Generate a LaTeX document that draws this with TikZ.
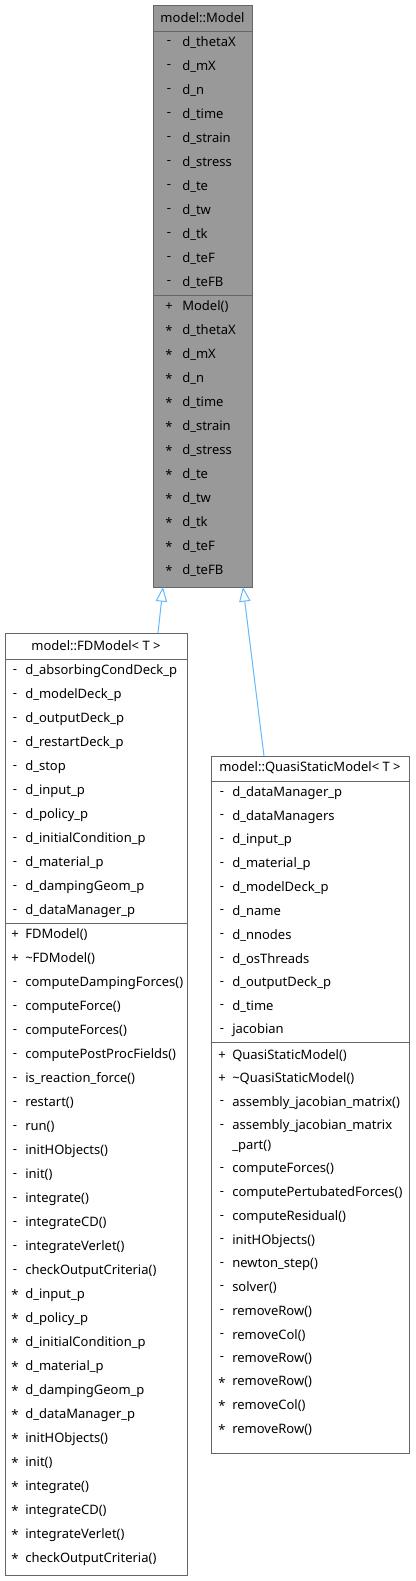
\documentclass[tikz,border=0pt]{standalone}
\usepackage{fontspec}
\setmainfont{Noto Sans}
\usepackage{xcolor}
\usetikzlibrary{arrows.meta}
\definecolor{edgeblue}{HTML}{63B8FF}
\definecolor{boxline}{HTML}{666666}
\definecolor{basefill}{HTML}{999999}
\tikzset{
  cls/.style={draw=boxline,line width=0.75pt,fill=white},
  basecls/.style={draw=boxline,line width=0.75pt,fill=basefill},
  sep/.style={draw=boxline,line width=0.75pt},
  title/.style={anchor=center,inner sep=0pt,font=\fontsize{9.75}{12}\selectfont},
  member/.style={anchor=west,inner sep=0pt,font=\fontsize{9.75}{12}\selectfont},
  vis/.style={anchor=center,inner sep=0pt,font=\fontsize{9.75}{12}\selectfont},
  inh/.style={draw=edgeblue,line width=0.75pt,-{Triangle[open,length=11pt,width=8.5pt]}},
}

\begin{document}
\begin{tikzpicture}[x=0.75pt,y=-0.75pt]
  \useasboundingbox (0,0) rectangle (415,1581);
  % base class model::Model
  \draw[basecls] (153,5) rectangle (252,587);
  \draw[sep] (153,31) -- (252,31);
  \draw[sep] (153,295) -- (252,295);
  \node[title] (mtitle) at (202.5,18) {model::Model};
  \foreach \t [count=\i] in {d\_thetaX,d\_mX,d\_n,d\_time,d\_strain,d\_stress,
      d\_te,d\_tw,d\_tk,d\_teF,d\_teFB} {
    \node[vis] (mav\i) at (169,{19+24*\i}) {-};
    \node[member] (ma\i) at (182,{19+24*\i}) {\t};
  }
  \foreach \s/\t [count=\i] in {+/Model(),*/d\_thetaX,*/d\_mX,*/d\_n,*/d\_time,
      */d\_strain,*/d\_stress,*/d\_te,*/d\_tw,*/d\_tk,*/d\_teF,*/d\_teFB} {
    \node[vis] (mmv\i) at (169,{283+24*\i}) {\s};
    \node[member] (mm\i) at (182,{283+24*\i}) {\t};
  }
  % derived class model::FDModel< T >
  \draw[cls] (5,633) rectangle (187,1575);
  \draw[sep] (5,659) -- (187,659);
  \draw[sep] (5,923) -- (187,923);
  \node[title] (ftitle) at (96,646) {model::FDModel< T >};
  \foreach \t [count=\i] in {d\_absorbingCondDeck\_p,d\_modelDeck\_p,d\_outputDeck\_p,
      d\_restartDeck\_p,d\_stop,d\_input\_p,d\_policy\_p,d\_initialCondition\_p,
      d\_material\_p,d\_dampingGeom\_p,d\_dataManager\_p} {
    \node[vis] (fav\i) at (15,{647+24*\i}) {-};
    \node[member] (fa\i) at (25,{647+24*\i}) {\t};
  }
  \foreach \s/\t [count=\i] in {+/FDModel(),+/\textasciitilde FDModel(),
      -/computeDampingForces(),-/computeForce(),-/computeForces(),
      -/computePostProcFields(),-/is\_reaction\_force(),-/restart(),-/run(),
      -/initHObjects(),-/init(),-/integrate(),-/integrateCD(),-/integrateVerlet(),
      -/checkOutputCriteria(),*/d\_input\_p,*/d\_policy\_p,*/d\_initialCondition\_p,
      */d\_material\_p,*/d\_dampingGeom\_p,*/d\_dataManager\_p,*/initHObjects(),
      */init(),*/integrate(),*/integrateCD(),*/integrateVerlet(),
      */checkOutputCriteria()} {
    \node[vis] (fmv\i) at (15,{911+24*\i}) {\s};
    \node[member] (fm\i) at (25,{911+24*\i}) {\t};
  }
  % derived class model::QuasiStaticModel< T >
  \draw[cls] (211,756) rectangle (409,1453);
  \draw[sep] (211,781) -- (409,781);
  \draw[sep] (211,1042.5) -- (409,1042.5);
  \node[title] (qtitle) at (310,768) {model::QuasiStaticModel< T >};
  \foreach \t [count=\i] in {d\_dataManager\_p,d\_dataManagers,d\_input\_p,
      d\_material\_p,d\_modelDeck\_p,d\_name,d\_nnodes,d\_osThreads,
      d\_outputDeck\_p,d\_time,jacobian} {
    \node[vis] (qav\i) at (222,{769.25+23.75*\i}) {-};
    \node[member] (qa\i) at (232,{769.25+23.75*\i}) {\t};
  }
  \foreach \s/\t [count=\i] in {+/QuasiStaticModel(),+/\textasciitilde QuasiStaticModel(),
      -/assembly\_jacobian\_matrix(),-/assembly\_jacobian\_matrix} {
    \node[vis] (qmv\i) at (222,{1031.9+23.6*\i}) {\s};
    \node[member] (qm\i) at (232,{1031.9+23.6*\i}) {\t};
  }
  \node[member] (qmpart) at (232,1146.3) {\_part()};
  \foreach \s/\t [count=\i from 5] in {-/computeForces(),-/computePertubatedForces(),
      -/computeResidual(),-/initHObjects(),-/newton\_step(),-/solver(),
      -/removeRow(),-/removeCol(),-/removeRow(),*/removeRow(),*/removeCol(),
      */removeRow()} {
    \node[vis] (qmv\i) at (222,{1051.9+23.6*\i}) {\s};
    \node[member] (qm\i) at (232,{1051.9+23.6*\i}) {\t};
  }
  % inheritance edges
  \coordinate (mbotl) at (163,587);
  \coordinate (mbotr) at (243,587);
  \coordinate (ftop) at (158,633);
  \coordinate (qtop) at (264,756);
  \draw[inh] (ftop) -- (mbotl);
  \draw[inh] (qtop) -- (mbotr);
\end{tikzpicture}
\end{document}
